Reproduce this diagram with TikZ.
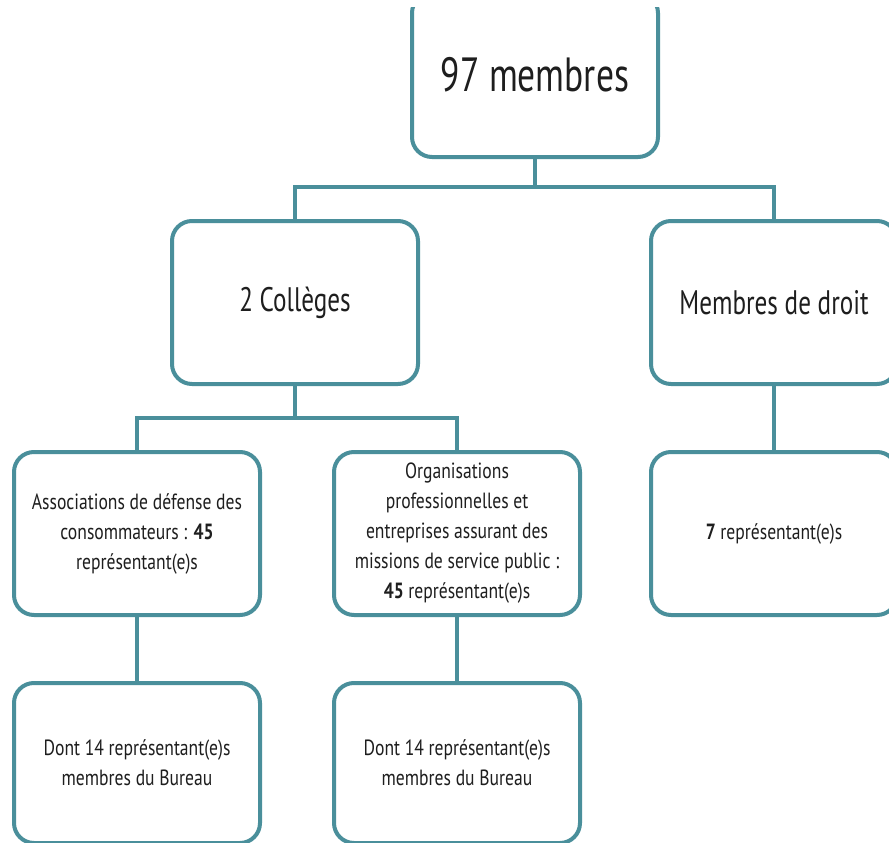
\documentclass[tikz,border=0pt]{standalone}
\usepackage{fontspec}
\setmainfont[FakeStretch=0.74]{PT Sans}
\newfontfamily\petittexte[FakeStretch=0.8]{PT Sans}
\usepackage{tikz}
\usetikzlibrary{positioning}
\definecolor{ligne}{RGB}{74,143,155}
\definecolor{texte}{RGB}{30,30,30}

\begin{document}
\begin{tikzpicture}[
            x=1pt,y=1pt,
            every node/.style={rectangle,draw=ligne,line width=4pt,rounded corners=20pt,
                fill=white,text=texte,align=center,minimum width=246pt,minimum height=163pt,inner sep=0pt},
            big text/.style={font=\fontsize{48}{52}\selectfont},
            mid text/.style={font=\fontsize{34}{38}\selectfont},
            small text/.style={font=\petittexte\fontsize{22}{30}\selectfont}
        ]
        \useasboundingbox (0,0) rectangle (889,-843);
        \clip (0,-8) rectangle (889,-843);
        \node [big text,minimum height=164pt] (membres) at (535,-75) {97 membres};
        \node [mid text,below=60pt of membres.south,xshift=-240pt] (colleges) {2 Collèges};
        \node [mid text,right=229pt of colleges] (droit) {Membres de droit};
        \node [small text,below=64pt of colleges.south,xshift=-158pt] (assoc) {Associations de défense des\\ consommateurs : \textbf{45}\\ représentant(e)s};
        \node [small text,right=70pt of assoc] (orga) {Organisations\\ professionnelles et\\ entreprises assurant des\\ missions de service public :\\ \textbf{45} représentant(e)s};
        \node [small text,below=64pt of droit] (sept) {\textbf{7} représentant(e)s};
        \node [small text,below=64pt of assoc,minimum height=160pt] (bureau 1) {Dont 14 représentant(e)s\\ membres du Bureau};
        \node [small text,below=64pt of orga,minimum height=160pt] (bureau 2) {Dont 14 représentant(e)s\\ membres du Bureau};

        \begin{scope}[ligne,line width=4pt]
        \draw (membres.south) -- ++(0,-28) -| (colleges.north);
        \draw (membres.south) -- ++(0,-28) -| (droit.north);
        \draw (colleges.south) -- ++(0,-32) -| (assoc.north);
        \draw (colleges.south) -- ++(0,-32) -| (orga.north);
        \draw (droit) -- (sept);
        \draw (assoc) -- (bureau 1);
        \draw (orga) -- (bureau 2);
        \end{scope}
    \end{tikzpicture}
\end{document}
